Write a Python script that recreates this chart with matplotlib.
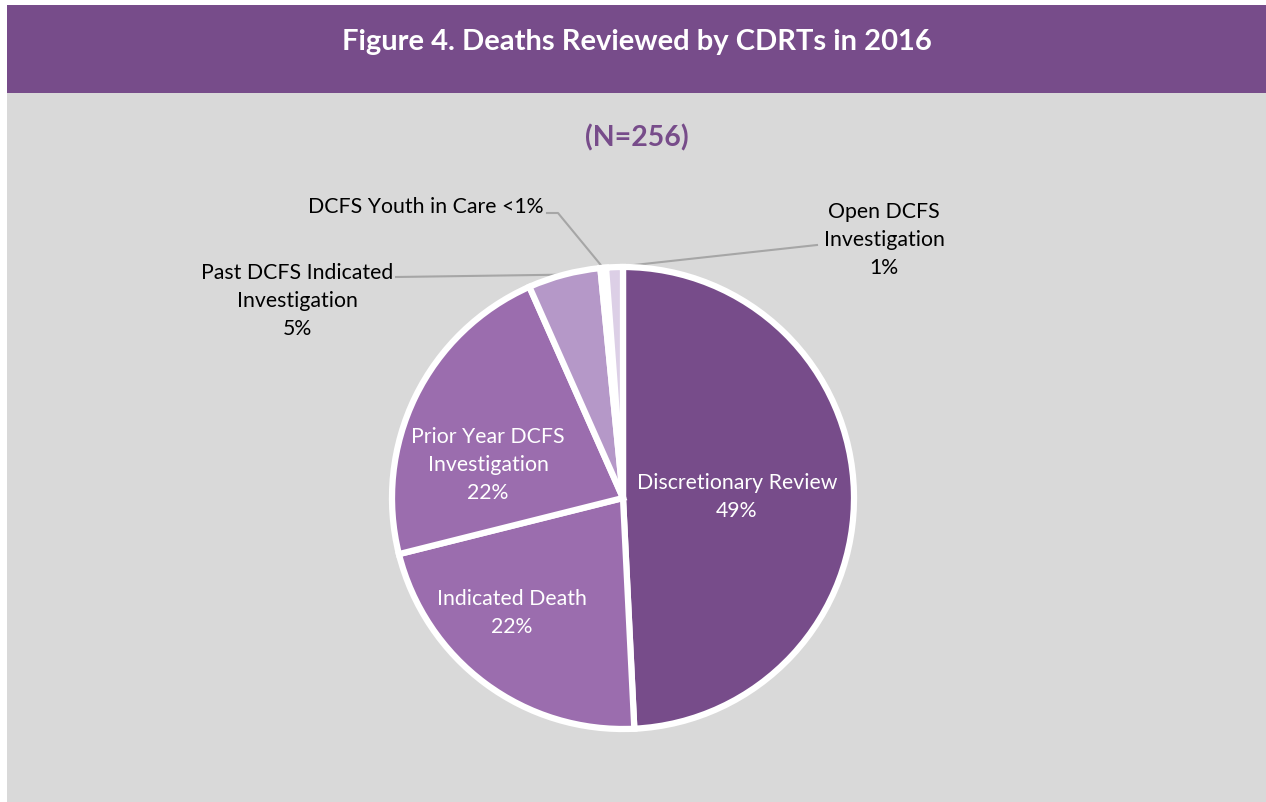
import numpy as np
import matplotlib
matplotlib.use("Agg")
import matplotlib.pyplot as plt
from matplotlib.patches import Rectangle

plt.rcParams['font.family'] = ['Lato', 'DejaVu Sans']

# counts out of N=256, clockwise from the top
categories = ["Discretionary Review", "Indicated Death", "Prior Year DCFS Investigation",
              "Past DCFS Indicated Investigation", "DCFS Youth in Care", "Open DCFS Investigation"]
counts = [126, 56, 57, 13, 1, 3]
pct_labels = ["49%", "22%", "22%", "5%", "<1%", "1%"]
colors = ["#774c8a", "#9b6dae", "#9b6dae", "#b598c8", "#e6dcee", "#dccfe6"]

W, H = 1266, 802
fig = plt.figure(figsize=(W / 100, H / 100), dpi=100)
fig.patch.set_facecolor("white")
ax = fig.add_axes([0, 0, 1, 1])

cx, cy, r = 623, H - 498, 231
wedges, _ = ax.pie(counts, colors=colors, startangle=90, counterclock=False,
                   center=(cx, cy), radius=r,
                   wedgeprops=dict(edgecolor="white", linewidth=4.5))
for w in wedges:
    w.set_zorder(3)

ax.set_xlim(0, W)
ax.set_ylim(0, H)
ax.set_aspect("auto")
ax.axis("off")

# background panels
ax.add_patch(Rectangle((7, 0), W - 7, H - 93, facecolor="#d9d9d9", edgecolor="none", zorder=0))
ax.add_patch(Rectangle((7, H - 93), W - 7, 88, facecolor="#774c8a", edgecolor="none", zorder=0))

ax.text(637, H - 42, "Figure 4. Deaths Reviewed by CDRTs in 2016", color="white",
        fontsize=21, fontweight="bold", ha="center", va="center")
ax.text(637, H - 138, "(N=256)", color="#774c8a", fontsize=20.5, fontweight="bold",
        ha="center", va="center")

# inside labels
fs = 15.3
ls = 1.5
ax.text(737, H - 497, "Discretionary Review\n" + pct_labels[0], color="white", fontsize=fs,
        ha="center", va="center", linespacing=ls, zorder=5)
ax.text(512, H - 613, "Indicated Death\n" + pct_labels[1], color="white", fontsize=fs,
        ha="center", va="center", linespacing=ls, zorder=5)
ax.text(488, H - 465, "Prior Year DCFS\nInvestigation\n" + pct_labels[2], color="white",
        fontsize=fs, ha="center", va="center", linespacing=ls, zorder=5)

# outside labels with leader lines
def anchor(w):
    a = np.deg2rad((w.theta1 + w.theta2) / 2)
    return cx + r * np.cos(a), cy + r * np.sin(a)

lc = "#a6a6a6"
ax.text(297, H - 301, "Past DCFS Indicated\nInvestigation\n" + pct_labels[3], color="black",
        fontsize=fs, ha="center", va="center", linespacing=ls)
x0, y0 = anchor(wedges[3])
ax.plot([396, x0], [H - 277, y0], color=lc, lw=1.5, zorder=2)

ax.text(426, H - 207, "DCFS Youth in Care " + pct_labels[4], color="black",
        fontsize=fs, ha="center", va="center")
x0, y0 = anchor(wedges[4])
ax.plot([547, 558, x0], [H - 213, H - 213, y0], color=lc, lw=1.5, zorder=2)

ax.text(884, H - 240, "Open DCFS\nInvestigation\n" + pct_labels[5], color="black",
        fontsize=fs, ha="center", va="center", linespacing=ls)
x0, y0 = anchor(wedges[5])
ax.plot([817, x0], [H - 245, y0], color=lc, lw=1.5, zorder=2)

fig.savefig("out.png", dpi=100, facecolor=fig.get_facecolor())
